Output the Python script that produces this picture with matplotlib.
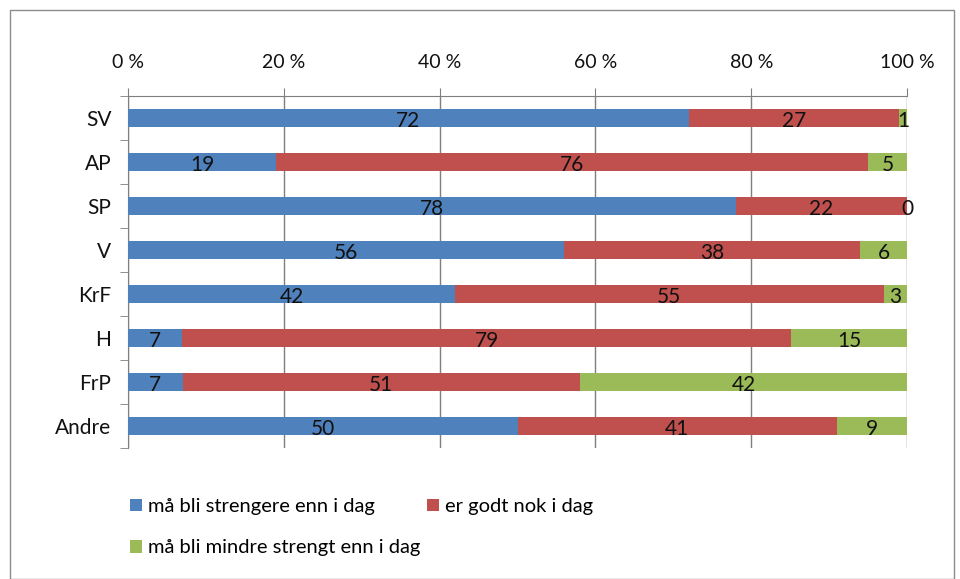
import numpy as np
import matplotlib.pyplot as plt
from matplotlib.patches import Rectangle

plt.rcParams['font.family'] = ['Lato', 'DejaVu Sans']

categories = ['SV', 'AP', 'SP', 'V', 'KrF', 'H', 'FrP', 'Andre']
stricter = [72, 19, 78, 56, 42, 7, 7, 50]
good_enough = [27, 76, 22, 38, 55, 79, 51, 41]
less_strict = [1, 5, 0, 6, 3, 15, 42, 9]
series_names = ['må bli strengere enn i dag', 'er godt nok i dag',
                'må bli mindre strengt enn i dag']
colors = ['#4F81BD', '#C0504D', '#9BBB59']
x_ticks = [0, 20, 40, 60, 80, 100]


def main():
    fig = plt.figure(figsize=(9.6, 5.79), dpi=100)
    ax = fig.add_axes([128 / 960, 1 - 448 / 579, 779 / 960, 352 / 579])

    vals = np.array([stricter, good_enough, less_strict], dtype=float)
    shares = vals / vals.sum(axis=0) * 100
    y = np.arange(len(categories))
    left = np.zeros(len(categories))
    bars = []
    for i in range(3):
        b = ax.barh(y, shares[i], left=left, height=0.39, color=colors[i],
                    label=series_names[i], zorder=3)
        bars.append(b)
        for j in range(len(categories)):
            ax.text(left[j] + shares[i][j] / 2, y[j] + 0.06, f'{int(vals[i][j])}',
                    ha='center', va='center', fontsize=15, color='#111111', zorder=4)
        left += shares[i]

    ax.set_xlim(0, 100)
    ax.set_ylim(len(categories) - 0.5, -0.5)
    ax.set_yticks(y)
    ax.set_yticklabels(categories, fontsize=15, color='#111111')
    ax.set_yticks(np.arange(len(categories) + 1) - 0.5, minor=True)
    ax.tick_params(axis='y', which='major', length=0, pad=12)
    ax.tick_params(axis='y', which='minor', length=6, color='#7f7f7f')
    ax.xaxis.tick_top()
    ax.set_xticks(x_ticks)
    ax.set_xticklabels([f'{t} %' for t in x_ticks], fontsize=14, color='#111111')
    ax.tick_params(axis='x', length=6, color='#7f7f7f', pad=12)
    ax.grid(axis='x', color='#7f7f7f', linewidth=1, zorder=0)
    for s in ['right', 'bottom']:
        ax.spines[s].set_visible(False)
    for s in ['top', 'left']:
        ax.spines[s].set_color('#7f7f7f')

    # matplotlib fills legend columns first, so reorder to get blue, red / green
    order = [0, 2, 1]
    fig.legend([bars[k] for k in order], [series_names[k] for k in order],
               loc='upper left', bbox_to_anchor=(112 / 960, 1 - 480 / 579),
               ncol=2, frameon=False, fontsize=14.5, handlelength=0.6,
               handleheight=0.6, handletextpad=0.3, columnspacing=0.3,
               labelspacing=1.2)

    fig.patches.append(Rectangle((10 / 960, 0), 944 / 960, 1 - 10 / 579,
                                 transform=fig.transFigure, fill=False,
                                 edgecolor='#8c8c8c', linewidth=1))
    fig.savefig('out.png', dpi=100)
    plt.close(fig)


if __name__ == '__main__':
    main()
